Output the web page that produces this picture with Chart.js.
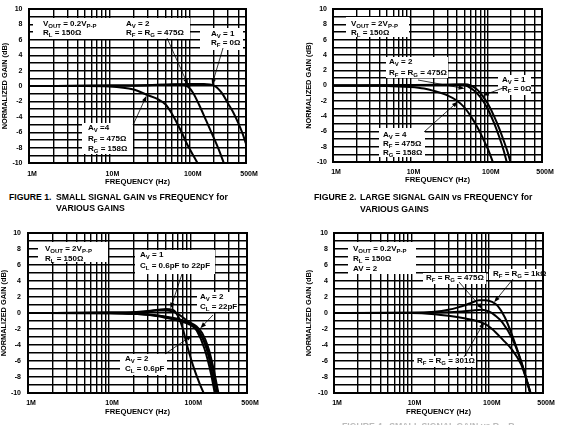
<!DOCTYPE html>
<html>
<head>
<meta charset="utf-8">
<script src="https://cdn.jsdelivr.net/npm/chart.js@4.4.0/dist/chart.umd.min.js"></script>
<style>
  html, body { margin: 0; padding: 0; background: #fff; }
  body { width: 582px; height: 425px; position: relative; overflow: hidden; font-family: "Liberation Sans", Arial, sans-serif; }
  .plot { position: absolute; }
  .plot canvas { display: block; }
  .cap { position: absolute; font-weight: bold; font-size: 8.7px; color: #000; white-space: nowrap; line-height: 10px; }
</style>
</head>
<body>
<div class="plot" style="left:0;top:0"><canvas id="fig1" width="291" height="190"></canvas></div>
<div class="plot" style="left:291px;top:0"><canvas id="fig2" width="291" height="190"></canvas></div>
<div class="plot" style="left:0;top:212px"><canvas id="fig3" width="291" height="213"></canvas></div>
<div class="plot" style="left:291px;top:212px"><canvas id="fig4" width="291" height="213"></canvas></div>

<div class="cap" style="left:9px;top:192px">FIGURE 1.</div>
<div class="cap" style="left:56px;top:192px">SMALL SIGNAL GAIN vs FREQUENCY for</div>
<div class="cap" style="left:56px;top:203px">VARIOUS GAINS</div>
<div class="cap" style="left:314px;top:192px">FIGURE 2.</div>
<div class="cap" style="left:360px;top:192px">LARGE SIGNAL GAIN vs FREQUENCY for</div>
<div class="cap" style="left:360px;top:204px">VARIOUS GAINS</div>
<div class="cap" style="left:342px;top:421px;color:#bbb">FIGURE 4.&nbsp; SMALL SIGNAL GAIN vs R<sub>F</sub>, R<sub>G</sub></div>

<script>
// frequencies in MHz, gains in dB
const xTicks = [1, 2, 3, 4, 5, 6, 7, 8, 9, 10, 20, 30, 40, 50, 60, 70, 80, 90, 100, 200, 300, 400, 500];
const xTickLabels = { 1: '1M', 10: '10M', 100: '100M', 500: '500M' };

// figure 1: small signal, various gains
const f1Av1Freq = [1, 10, 30, 60, 100, 150, 200, 250, 300, 350, 400, 450, 500];
const f1Av1Gain = [0, 0.05, 0.1, 0.2, 0.25, 0.25, 0.05, -0.9, -2.3, -3.5, -4.8, -6.1, -7.5];
const f1Av2Freq = [1, 10, 30, 60, 80, 95, 110, 130, 160, 200, 230, 265];
const f1Av2Gain = [0, 0.05, 0.1, 0.2, 0.15, -0.1, -0.9, -2.4, -4.5, -6.8, -8.3, -10];
const f1Av4Freq = [1, 5, 10, 20, 30, 40, 50, 60, 70, 80, 90, 100, 110, 125];
const f1Av4Gain = [0, 0, -0.05, -0.45, -1.2, -1.7, -2.4, -3.6, -4.9, -6.1, -7.3, -8.2, -9.0, -10];

// figure 2: large signal, various gains
const f2Av1Freq = [1, 10, 30, 50, 60, 70, 80, 90, 100, 120, 140, 160, 180, 195];
const f2Av1Gain = [0, 0.05, 0.1, 0.15, 0, -0.4, -1.0, -1.7, -2.4, -4.0, -5.6, -7.2, -8.7, -10];
const f2Av2Freq = [1, 10, 30, 45, 55, 65, 75, 85, 100, 120, 140, 160, 175];
const f2Av2Gain = [0, 0.05, 0.1, 0.1, -0.1, -0.6, -1.2, -1.9, -3.1, -4.9, -6.7, -8.5, -10];
const f2Av4Freq = [1, 5, 10, 15, 20, 30, 40, 50, 60, 70, 80, 90, 100, 116];
const f2Av4Gain = [0, -0.05, -0.2, -0.4, -0.7, -1.3, -2.0, -2.9, -4.0, -5.1, -6.2, -7.3, -8.3, -10];

// figure 3: load capacitance
const f3PeakFreq = [1, 10, 20, 30, 40, 50, 60, 70, 80, 91, 110, 130, 146];
const f3PeakGain = [0, 0.05, 0.1, 0.25, 0.4, 0.5, 0.4, -0.3, -1.8, -4.0, -6.8, -8.8, -10];
const f3Av1Freq = [1, 10, 20, 30, 40, 50, 60, 70, 80, 100, 120, 150, 180, 200];
const f3Av1Gain = [0, 0.05, 0.1, 0.2, 0.3, 0.3, 0.2, -0.1, -0.5, -1.3, -2.2, -4.5, -7.6, -10];
const f3Av2BigFreq = [1, 10, 20, 40, 60, 80, 100, 120, 140, 160, 180, 205];
const f3Av2BigGain = [0, -0.02, -0.1, -0.35, -0.7, -1.0, -1.3, -1.9, -3.0, -4.6, -6.8, -10];
const f3Av2SmallFreq = [1, 10, 20, 40, 60, 80, 100, 120, 140, 160, 180, 200, 215];
const f3Av2SmallGain = [0, -0.02, -0.1, -0.4, -0.8, -1.1, -1.5, -2.1, -3.0, -4.3, -6.0, -8.3, -10];
const f3Av2MidFreq = [1, 10, 20, 40, 60, 80, 100, 120, 140, 165, 190, 222];
const f3Av2MidGain = [0, 0, -0.05, -0.3, -0.6, -0.9, -1.2, -1.7, -2.5, -4.2, -6.6, -10];

// figure 4: feedback resistor
const f4R1kFreq = [1, 10, 20, 30, 40, 50, 60, 75, 90, 110, 130, 160, 200, 260, 300, 345];
const f4R1kGain = [0, 0.02, 0.15, 0.4, 0.7, 1.0, 1.3, 1.6, 1.6, 1.4, 0.9, -0.5, -2.8, -6.0, -8.0, -10];
const f4R475Freq = [1, 10, 20, 40, 60, 80, 100, 120, 150, 200, 260, 300, 340];
const f4R475Gain = [0, 0.02, 0.05, 0.15, 0.3, 0.4, 0.2, -0.3, -1.2, -3.2, -6.0, -8.0, -10];
const f4R301Freq = [1, 10, 20, 30, 50, 70, 90, 110, 150, 200, 260, 300, 345];
const f4R301Gain = [0, 0, -0.15, -0.35, -0.7, -1.0, -1.4, -2.0, -3.3, -4.6, -6.4, -8.1, -10];

const FONT = '"Liberation Sans", Arial, sans-serif';

// text with {subscript} parts
function rich(ctx, text, x, y) {
  text.split(/(\{[^}]*\})/).forEach(p => {
    if (!p) return;
    const sub = p[0] === '{';
    const s = sub ? p.slice(1, -1) : p;
    ctx.font = 'bold ' + (sub ? 6 : 8) + 'px ' + FONT;
    ctx.fillText(s, x, sub ? y + 2.5 : y);
    x += ctx.measureText(s).width;
  });
}

const notes = {
  id: 'notes',
  beforeDatasetsDraw(chart, args, opts) {
    const ctx = chart.ctx, a = chart.chartArea;
    ctx.save();
    ctx.fillStyle = '#fff';
    opts.boxes.forEach(b => ctx.fillRect(a.left + b.x, a.top + b.y, b.w, b.h));
    ctx.fillStyle = '#000';
    ctx.textBaseline = 'middle';
    opts.boxes.forEach(b => b.lines.forEach((t, i) => rich(ctx, t, a.left + b.tx, a.top + b.ty + i * b.lh)));
    ctx.restore();
  },
  afterDatasetsDraw(chart, args, opts) {
    const ctx = chart.ctx, a = chart.chartArea;
    const sx = chart.scales.x, sy = chart.scales.y;
    ctx.save();
    ctx.strokeStyle = '#000';
    ctx.lineWidth = 2;
    ctx.strokeRect(a.left, a.top, a.right - a.left, a.bottom - a.top);
    ctx.lineWidth = 0.8;
    ctx.fillStyle = '#000';
    opts.arrows.forEach(r => {
      const x0 = a.left + r.from[0], y0 = a.top + r.from[1];
      const x1 = sx.getPixelForValue(r.to[0]), y1 = sy.getPixelForValue(r.to[1]);
      const ang = Math.atan2(y1 - y0, x1 - x0), c = Math.cos(ang), s = Math.sin(ang);
      ctx.beginPath();
      ctx.moveTo(x0, y0);
      ctx.lineTo(x1 - 5 * c, y1 - 5 * s);
      ctx.stroke();
      ctx.beginPath();
      ctx.moveTo(x1, y1);
      ctx.lineTo(x1 - 6 * c + 2.2 * s, y1 - 6 * s - 2.2 * c);
      ctx.lineTo(x1 - 6 * c - 2.2 * s, y1 - 6 * s + 2.2 * c);
      ctx.closePath();
      ctx.fill();
    });
    ctx.restore();
  }
};

function curve(freq, gain) {
  return {
    data: freq.map((f, i) => ({ x: f, y: gain[i] })),
    borderColor: '#000',
    borderWidth: 2,
    pointRadius: 0,
    cubicInterpolationMode: 'monotone',
    fill: false
  };
}

function makeChart(id, datasets, lay, notesCfg) {
  return new Chart(document.getElementById(id), {
    type: 'line',
    data: { datasets: datasets },
    options: {
      responsive: false,
      animation: false,
      devicePixelRatio: 1,
      layout: { padding: lay.pad },
      plugins: { legend: { display: false }, tooltip: { enabled: false }, notes: notesCfg },
      scales: {
        x: {
          type: 'logarithmic', min: 1, max: 500,
          afterBuildTicks: s => { s.ticks = xTicks.map(v => ({ value: v })); },
          afterFit: s => { s.height = lay.xh; s.paddingLeft = 0; s.paddingRight = 0; },
          grid: { color: '#000', lineWidth: 1.4, drawTicks: false },
          border: { display: false },
          ticks: {
            autoSkip: false, maxRotation: 0, minRotation: 0, padding: lay.xlp, labelOffset: 3, color: '#000',
            font: { family: FONT, size: 7, weight: 'bold' },
            callback: v => xTickLabels[v] || ''
          },
          title: { display: true, text: 'FREQUENCY (Hz)', color: '#000', padding: { top: 0, bottom: lay.xtp },
                   font: { family: FONT, size: 7.7, weight: 'bold' } }
        },
        y: {
          min: -10, max: 10,
          afterFit: s => { s.width = lay.yw; s.paddingTop = 0; s.paddingBottom = 0; },
          grid: { color: '#000', lineWidth: 1.4, drawTicks: false },
          border: { display: false },
          ticks: {
            stepSize: 1, autoSkip: false, padding: lay.ytp, color: '#000',
            font: { family: FONT, size: 7, weight: 'bold' },
            callback: v => (v % 2 === 0 ? String(v) : '')
          },
          title: { display: true, text: 'NORMALIZED GAIN (dB)', color: '#000', padding: 0,
                   font: { family: FONT, size: 7.4, weight: 'bold' } }
        }
      }
    },
    plugins: [notes]
  });
}

makeChart('fig1',
  [curve(f1Av1Freq, f1Av1Gain), curve(f1Av2Freq, f1Av2Gain), curve(f1Av4Freq, f1Av4Gain)],
  { pad: { left: 1, top: 9, right: 45, bottom: 0 }, yw: 28, xh: 27, xtp: 3.4, ytp: 6.5, xlp: 6.5 },
  {
    boxes: [
      { x: 4, y: 9, w: 82, h: 21, tx: 14, ty: 15, lh: 9, lines: ['V{OUT} = 0.2V{P-P}', 'R{L} = 150Ω'] },
      { x: 86, y: 9, w: 75, h: 21, tx: 97, ty: 15, lh: 9, lines: ['A{V} = 2', 'R{F} = R{G} = 475Ω'] },
      { x: 171, y: 19, w: 43, h: 22, tx: 182, ty: 25, lh: 9, lines: ['A{V} = 1', 'R{F} = 0Ω'] },
      { x: 53, y: 114, w: 51, h: 31, tx: 59, ty: 119, lh: 10.5, lines: ['A{V} =4', 'R{F} = 475Ω', 'R{G} = 158Ω'] }
    ],
    arrows: [
      { from: [138, 29], to: [95, 0.15] },
      { from: [194, 39], to: [189, 0.15] },
      { from: [104, 116], to: [29, -1.25] }
    ]
  });

makeChart('fig2',
  [curve(f2Av1Freq, f2Av1Gain), curve(f2Av2Freq, f2Av2Gain), curve(f2Av4Freq, f2Av4Gain)],
  { pad: { left: 14, top: 9, right: 40, bottom: 0 }, yw: 28, xh: 28, xtp: 5.4, ytp: 6, xlp: 5.5 },
  {
    boxes: [
      { x: 13, y: 8, w: 63, h: 20, tx: 18, ty: 15, lh: 9, lines: ['V{OUT} = 2V{P-P}', 'R{L} = 150Ω'] },
      { x: 53, y: 48, w: 62, h: 21, tx: 56, ty: 53, lh: 11, lines: ['A{V} = 2', 'R{F} = R{G} = 475Ω'] },
      { x: 165, y: 66, w: 33, h: 20, tx: 169, ty: 71, lh: 9, lines: ['A{V} = 1', 'R{F} = 0Ω'] },
      { x: 46, y: 119, w: 46, h: 29, tx: 50, ty: 126, lh: 9, lines: ['A{V} = 4', 'R{F} = 475Ω', 'R{G} = 158Ω'] }
    ],
    arrows: [
      { from: [85, 71], to: [50, -0.4] },
      { from: [170, 79], to: [86, -1.3] },
      { from: [91, 123], to: [41, -2.1] }
    ]
  });

makeChart('fig3',
  [curve(f3PeakFreq, f3PeakGain), curve(f3Av1Freq, f3Av1Gain), curve(f3Av2BigFreq, f3Av2BigGain),
   curve(f3Av2SmallFreq, f3Av2SmallGain), curve(f3Av2MidFreq, f3Av2MidGain)],
  { pad: { left: 0, top: 21, right: 44, bottom: 0 }, yw: 28, xh: 32, xtp: 8.4, ytp: 7, xlp: 6 },
  {
    boxes: [
      { x: 10, y: 9, w: 70, h: 20, tx: 17, ty: 16, lh: 9.5, lines: ['V{OUT} = 2V{P-P}', 'R{L} = 150Ω'] },
      { x: 107, y: 17, w: 80, h: 24, tx: 112, ty: 22, lh: 11, lines: ['A{V} = 1', 'C{L} = 0.6pF to 22pF'] },
      { x: 169, y: 59, w: 41, h: 20, tx: 172, ty: 64, lh: 10, lines: ['A{V} = 2', 'C{L} = 22pF'] },
      { x: 92, y: 121, w: 47, h: 21, tx: 97, ty: 126, lh: 10, lines: ['A{V} = 2', 'C{L} = 0.6pF'] }
    ],
    arrows: [
      { from: [154, 41], to: [57, 0.55] },
      { from: [185, 82], to: [133, -1.9] },
      { from: [137, 121], to: [105, -2.8] }
    ]
  });

makeChart('fig4',
  [curve(f4R1kFreq, f4R1kGain), curve(f4R475Freq, f4R475Gain), curve(f4R301Freq, f4R301Gain)],
  { pad: { left: 14, top: 21, right: 39, bottom: 0 }, yw: 29, xh: 32, xtp: 8.4, ytp: 6, xlp: 6 },
  {
    boxes: [
      { x: 14, y: 9, w: 68, h: 32, tx: 19, ty: 16, lh: 10, lines: ['V{OUT} = 0.2V{P-P}', 'R{L} = 150Ω', 'AV = 2'] },
      { x: 89, y: 40, w: 63, h: 11, tx: 92, ty: 45, lh: 0, lines: ['R{F} = R{G} = 475Ω'] },
      { x: 155, y: 36, w: 54, h: 11, tx: 159, ty: 41, lh: 0, lines: ['R{F} = R{G} = 1kΩ'] },
      { x: 80, y: 123, w: 62, h: 11, tx: 83, ty: 128, lh: 0, lines: ['R{F} = R{G} = 301Ω'] }
    ],
    arrows: [
      { from: [125, 49], to: [83, 0.5] },
      { from: [179, 46], to: [117, 1.35] },
      { from: [130, 124], to: [87, -1.15] }
    ]
  });
</script>
</body>
</html>
